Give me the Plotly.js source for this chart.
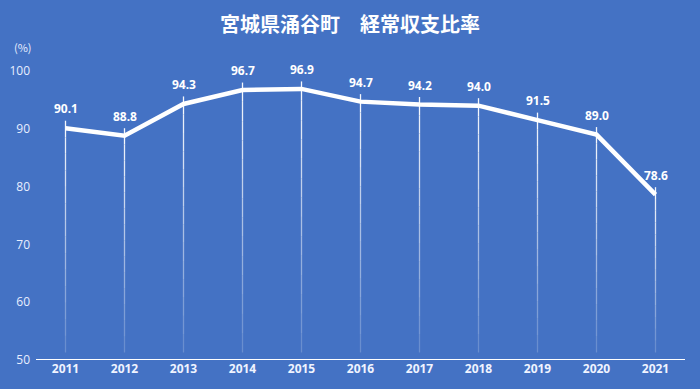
<!DOCTYPE html>
<html><head><meta charset="utf-8">
<script src="https://cdn.plot.ly/plotly-3.0.1.min.js"></script>
<style>html,body{margin:0;padding:0;background:#4472c4;}#chart{width:700px;height:389px;}</style>
</head><body><div id="chart"></div>
<script>
const years = ['2011','2012','2013','2014','2015','2016','2017','2018','2019','2020','2021'];
const ratio = [90.1, 88.8, 94.3, 96.7, 96.9, 94.7, 94.2, 94.0, 91.5, 89.0, 78.6];
const labels = ratio.map(v => v.toFixed(1));
const yTicks = [50, 60, 70, 80, 90, 100];

const shapes = [];
const segs = 14;
years.forEach((yr, i) => {
  const top = ratio[i] + 1.3, bot = 51.3;
  for (let s = 0; s < segs; s++) {
    const a = top - (top - bot) * s / segs;
    const b = top - (top - bot) * (s + 1) / segs;
    shapes.push({type:'line', xref:'x', yref:'y', x0:i, x1:i, y0:a, y1:b,
      line:{color:'rgba(255,255,255,' + (0.95 - 0.75 * s / (segs - 1)).toFixed(3) + ')', width:1.3}, layer:'above'});
  }
});
shapes.push({type:'line', xref:'paper', yref:'y', x0:0, x1:1, y0:50, y1:50, line:{color:'#ffffff', width:2}});

const annotations = years.map((yr, i) => ({
  x:i, y:ratio[i], xref:'x', yref:'y', text:labels[i], showarrow:false, yanchor:'bottom', yshift:9,
  font:{family:'"Noto Sans", "Open Sans", sans-serif', size:12, color:'#ffffff', weight:'bold'}
}));
annotations.push({text:'(%)', xref:'paper', yref:'paper', x:-0.02, y:1.0, yshift:24, xanchor:'center', yanchor:'middle', showarrow:false,
    font:{family:'"Noto Sans CJK JP", sans-serif', size:11, color:'#e8eeff'}});

const trace = {
  x: years.map((_, i) => i), y: ratio, type:'scatter', mode:'lines',
  line:{color:'#ffffff', width:4.5}, hoverinfo:'skip'
};

const layout = {
  width:700, height:389,
  paper_bgcolor:'#4472c4', plot_bgcolor:'#4472c4',
  margin:{l:36, r:15, t:71, b:29},
  showlegend:false,
  title:{text:'宮城県涌谷町　経常収支比率', x:0.5, xanchor:'center', y:0.935, yanchor:'middle',
    font:{family:'"Noto Sans CJK JP", sans-serif', size:20, color:'#ffffff', weight:'bold'}},
  xaxis:{range:[-0.5, 10.5], tickvals:years.map((_, i) => i), ticktext:years, showgrid:false, zeroline:false, showline:false,
    ticks:'', tickfont:{family:'"Noto Sans", sans-serif', size:12, color:'#f0f4ff', weight:'bold'}, fixedrange:true},
  yaxis:{range:[50, 100], tickvals:yTicks, ticktext:yTicks.map(String), showgrid:false, zeroline:false, showline:false,
    ticks:'', ticklabelstandoff:5, tickfont:{family:'"Open Sans", sans-serif', size:12, color:'#e8eeff'}, fixedrange:true},
  shapes: shapes,
  annotations: annotations
};
Plotly.newPlot('chart', [trace], layout, {displayModeBar:false, staticPlot:true});
</script></body></html>
